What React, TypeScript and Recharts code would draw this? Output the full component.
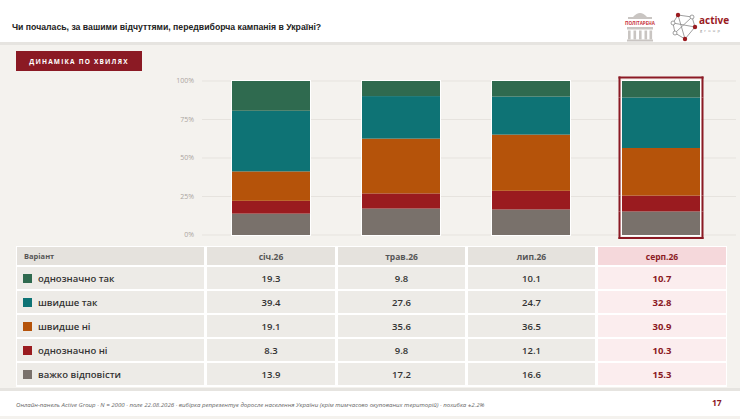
import React from "react";
import { BarChart, Bar, XAxis, YAxis, CartesianGrid } from "recharts";

const waves = ["січ.26", "трав.26", "лип.26", "серп.26"];
const definitelyYes = [19.3, 9.8, 10.1, 10.7];
const ratherYes = [39.4, 27.6, 24.7, 32.8];
const ratherNo = [19.1, 35.6, 36.5, 30.9];
const definitelyNo = [8.3, 9.8, 12.1, 10.3];
const hardToSay = [13.9, 17.2, 16.6, 15.3];
const yTicks = [0, 25, 50, 75, 100];
const highlightWave = "серп.26";

// top of the table first, bottom of the stack last
const series = [
  { key: "definitelyYes", label: "однозначно так", color: "#2f6a4f", values: definitelyYes },
  { key: "ratherYes", label: "швидше так", color: "#0e7375", values: ratherYes },
  { key: "ratherNo", label: "швидше ні", color: "#b5530a", values: ratherNo },
  { key: "definitelyNo", label: "однозначно ні", color: "#9a1b1f", values: definitelyNo },
  { key: "hardToSay", label: "важко відповісти", color: "#79716b", values: hardToSay },
];

const chartData = waves.map((wave, i) => {
  const row: any = { wave };
  series.forEach((s) => (row[s.key] = s.values[i]));
  return row;
});

const RED = "#8b1a24";
const FONT = "'Open Sans', 'Noto Sans', sans-serif";

const segmentShape = (isTop: boolean, isBottom: boolean) => (props: any) => {
  const { x, y, width, height, fill, payload } = props;
  const hl = payload && payload.wave === highlightWave;
  const y1 = isTop ? y - 4.5 : y;
  const y2 = isBottom ? y + height + 4 : y + height;
  return (
    <g>
      <rect x={x} y={y} width={width} height={height} fill={fill} />
      <line x1={x - 0.5} y1={y} x2={x - 0.5} y2={y + height} stroke="#fff" />
      <line x1={x + width + 0.5} y1={y} x2={x + width + 0.5} y2={y + height} stroke="#fff" />
      {isTop && <line x1={x - 1} y1={y - 0.5} x2={x + width + 1} y2={y - 0.5} stroke="#fff" />}
      {isBottom && (
        <line x1={x - 1} y1={y + height + 0.5} x2={x + width + 1} y2={y + height + 0.5} stroke="#fff" />
      )}
      {hl && (
        <g stroke={RED} strokeWidth={2}>
          <line x1={x - 2.5} y1={y1} x2={x - 2.5} y2={y2} />
          <line x1={x + width + 2.5} y1={y1} x2={x + width + 2.5} y2={y2} />
          {isTop && <line x1={x - 3.5} y1={y - 3.5} x2={x + width + 3.5} y2={y - 3.5} />}
          {isBottom && <line x1={x - 3.5} y1={y + height + 3} x2={x + width + 3.5} y2={y + height + 3} />}
        </g>
      )}
    </g>
  );
};

const Logos = () => (
  <svg width={120} height={40} style={{ position: "absolute", left: 615, top: 6 }}>
    {/* poltarena */}
    <path d="M18 11 Q25 3 32 11 Z" fill="#c9c5c2" />
    <rect x={13} y={11} width={24} height={2} fill="#c9c5c2" />
    <text x={25} y={18.5} fontSize={4.6} fontWeight={700} fill="#c8343c" textAnchor="middle" fontFamily={FONT}>
      ПОЛІТАРЕНА
    </text>
    <rect x={12} y={21} width={26} height={2.5} fill="#c9c5c2" />
    {[13, 18.5, 24, 29.5, 34.5].map((cx) => (
      <rect key={cx} x={cx} y={24.5} width={2.6} height={9} fill="#c9c5c2" />
    ))}
    <rect x={12} y={33.5} width={26} height={2} fill="#c9c5c2" />
    {/* active group */}
    <g stroke="#888" strokeWidth={0.8} fill="none">
      <path d="M63 9 L77 11 L80 21 L70 33 L60 27 L58 17 Z" />
      <path d="M63 9 L70 33 M58 17 L80 21 M60 27 L77 11" />
    </g>
    {[[63, 9], [80, 21], [70, 33]].map(([cx, cy]) => (
      <circle key={cx} cx={cx} cy={cy} r={2.2} fill="#9a1b1f" />
    ))}
    {[[77, 11], [58, 17], [60, 27]].map(([cx, cy]) => (
      <circle key={cx} cx={cx} cy={cy} r={2} fill="#fff" stroke="#888" strokeWidth={0.8} />
    ))}
    <text x={84} y={18} fontSize={10} fontWeight={700} fill="#9a1b1f" fontFamily={FONT}>
      active
    </text>
    <text x={85} y={26} fontSize={4} fill="#888" letterSpacing={2.2} fontFamily={FONT}>
      group
    </text>
  </svg>
);

const cellBase: React.CSSProperties = {
  display: "flex",
  alignItems: "center",
  justifyContent: "center",
  background: "#edebe7",
  color: "#333",
  fontSize: 9.5,
  fontWeight: 600,
};

const DataTable = () => (
  <div
    style={{
      position: "absolute",
      left: 16,
      top: 246,
      width: 711,
      height: 141,
      background: "#fff",
    }}
  >
    <div
      style={{
        position: "absolute",
        left: 1,
        top: 1,
        display: "grid",
        gridTemplateColumns: "187px 128px 127px 127px 128px",
        gridTemplateRows: "18px repeat(5, 22px)",
        columnGap: 3,
        rowGap: 2,
      }}
    >
      <div style={{ ...cellBase, justifyContent: "flex-start", paddingLeft: 7, background: "#e5e2dd", color: "#555", fontSize: 7.5, fontWeight: 700 }}>
        Варіант
      </div>
      {waves.map((w) => {
        const hl = w === highlightWave;
        return (
          <div
            key={w}
            style={{ ...cellBase, background: hl ? "#f5d8db" : "#e5e2dd", color: hl ? RED : "#555", fontSize: 8.5, fontWeight: 700 }}
          >
            {w}
          </div>
        );
      })}
      {series.map((s) => (
        <React.Fragment key={s.key}>
          <div style={{ ...cellBase, justifyContent: "flex-start", paddingLeft: 6 }}>
            <span style={{ width: 9, height: 9, background: s.color, marginRight: 6, display: "inline-block" }} />
            {s.label}
          </div>
          {waves.map((w, i) => {
            const hl = w === highlightWave;
            return (
              <div
                key={w}
                style={{ ...cellBase, background: hl ? "#fbedee" : "#edebe7", color: hl ? RED : "#333", fontWeight: hl ? 700 : 600 }}
              >
                {s.values[i].toFixed(1)}
              </div>
            );
          })}
        </React.Fragment>
      ))}
    </div>
  </div>
);

export default function App() {
  const stackOrder = [...series].reverse();
  return (
    <div
      style={{
        position: "absolute",
        left: 0,
        top: 0,
        width: 740,
        height: 419,
        background: "#f4f2ee",
        fontFamily: FONT,
        overflow: "hidden",
      }}
    >
      <div
        style={{
          position: "absolute",
          left: 0,
          top: 0,
          width: 740,
          height: 42,
          background: "#fff",
          borderBottom: "3px solid #e6e4e0",
        }}
      >
        <div
          style={{
            position: "absolute",
            left: 12,
            top: 22,
            fontSize: 8.7,
            fontWeight: 700,
            color: "#222",
            fontFamily: "'Liberation Sans', sans-serif",
          }}
        >
          Чи почалась, за вашими відчуттями, передвиборча кампанія в Україні?
        </div>
        <Logos />
      </div>

      <div
        style={{
          position: "absolute",
          left: 16,
          top: 51,
          width: 126,
          height: 20,
          background: RED,
          color: "#fff",
          fontSize: 6.5,
          fontWeight: 700,
          letterSpacing: 1.2,
          display: "flex",
          alignItems: "center",
          justifyContent: "center",
        }}
      >
        ДИНАМІКА ПО ХВИЛЯХ
      </div>

      <div style={{ position: "absolute", left: 160, top: 70 }}>
        <BarChart
          width={580}
          height={175}
          data={chartData}
          margin={{ top: 11, right: 4, bottom: 10, left: 6 }}
          barCategoryGap="20%"
        >
          <CartesianGrid vertical={false} stroke="#e6e3de" />
          <XAxis dataKey="wave" hide padding={{ left: 4, right: 10 }} />
          <YAxis
            width={36}
            domain={[0, 100]}
            ticks={yTicks}
            tickFormatter={(v) => `${v}%`}
            axisLine={false}
            tickLine={false}
            tick={{ fontSize: 7, fill: "#aba59f", fontFamily: FONT }}
          />
          {stackOrder.map((s, i) => (
            <Bar
              key={s.key}
              dataKey={s.key}
              stackId="a"
              fill={s.color}
              isAnimationActive={false}
              shape={segmentShape(i === stackOrder.length - 1, i === 0)}
            />
          ))}
        </BarChart>
      </div>

      <DataTable />

      <div
        style={{
          position: "absolute",
          left: 0,
          top: 388,
          width: 740,
          height: 28,
          background: "#fff",
          borderTop: "3px solid #e6e4e0",
          boxSizing: "border-box",
        }}
      >
        <div
          style={{
            position: "absolute",
            left: 16,
            top: 9,
            fontSize: 6.1,
            fontStyle: "italic",
            color: "#666",
          }}
        >
          Онлайн-панель Active Group · N = 2000 · поле 22.08.2026 · вибірка репрезентує доросле населення України (крім тимчасово окупованих територій) · похибка ±2.2%
        </div>
        <div
          style={{
            position: "absolute",
            left: 712,
            top: 6,
            fontSize: 8.5,
            fontWeight: 700,
            color: RED,
          }}
        >
          17
        </div>
      </div>
    </div>
  );
}
